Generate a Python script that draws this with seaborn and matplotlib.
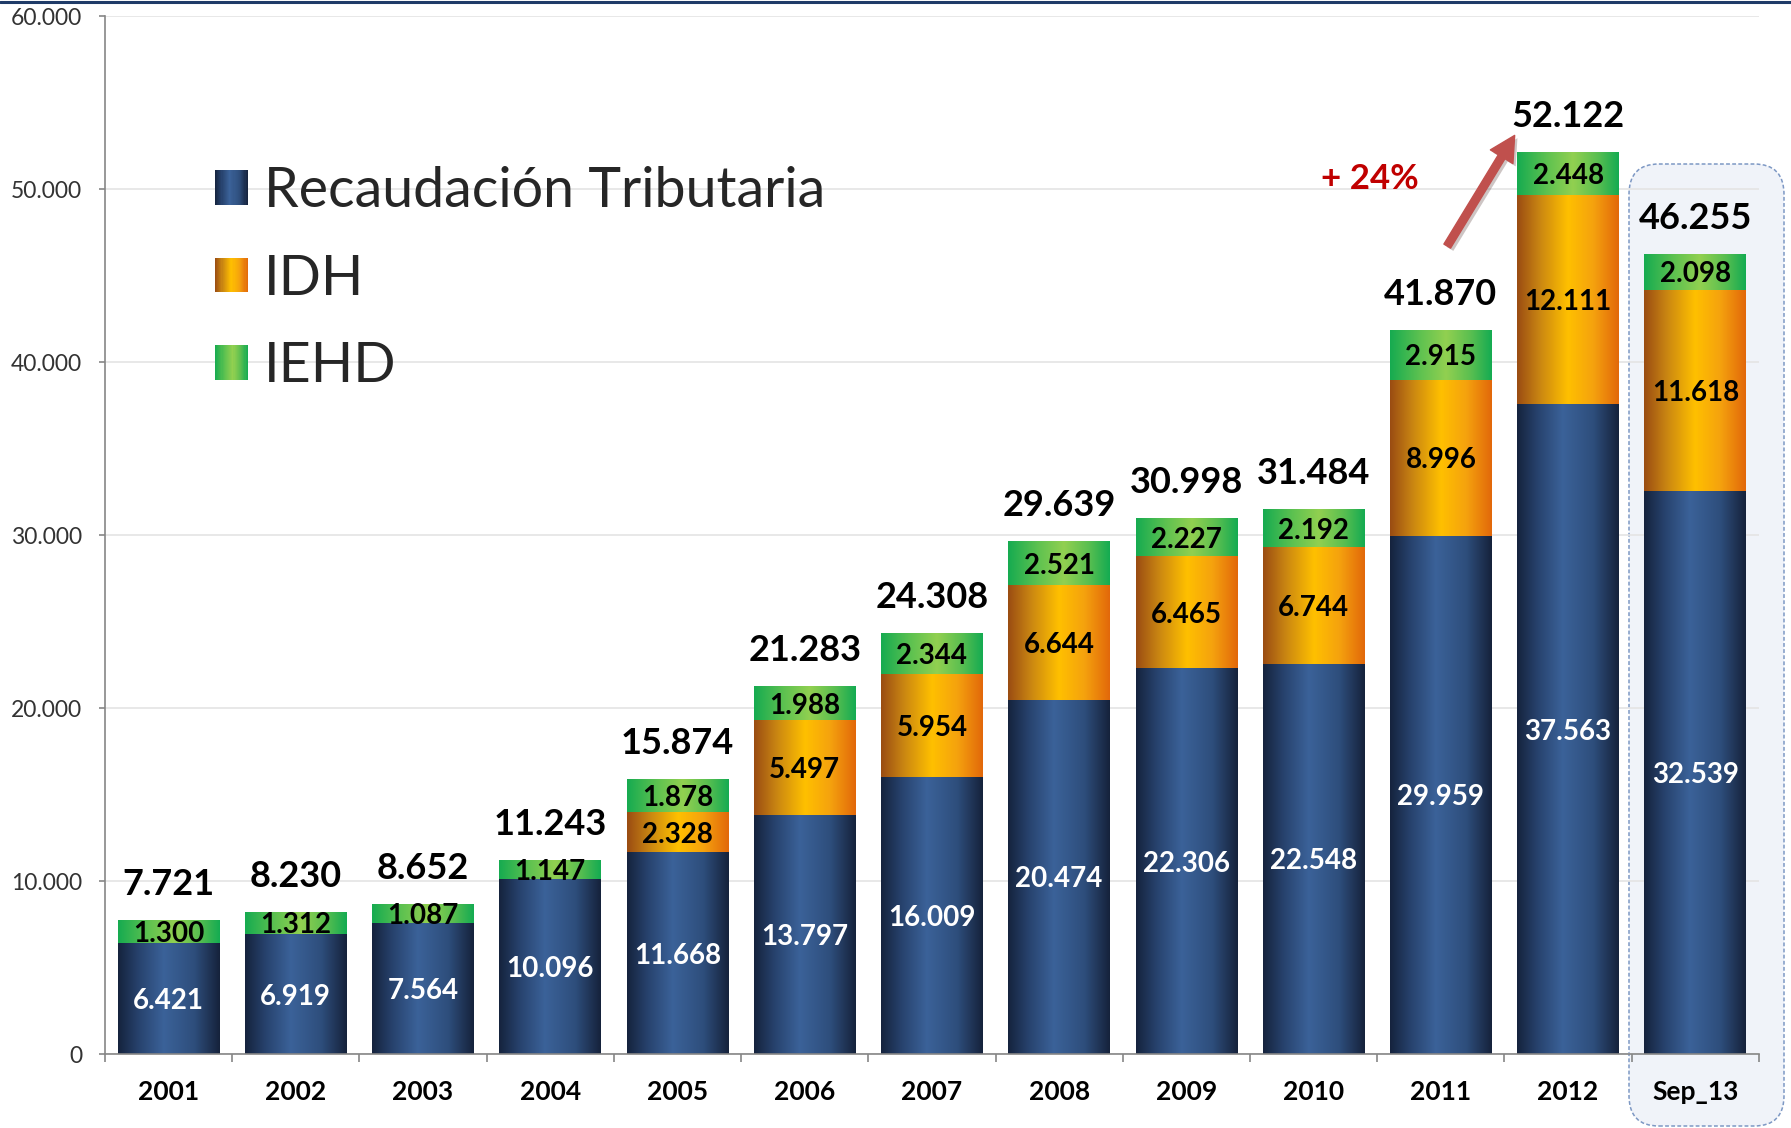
import numpy as np
import pandas as pd
import matplotlib
matplotlib.use("Agg")
import matplotlib.pyplot as plt
import seaborn as sns
from matplotlib.colors import LinearSegmentedColormap
from matplotlib.patches import Patch, Rectangle, FancyBboxPatch
from matplotlib.lines import Line2D
from matplotlib.legend_handler import HandlerBase
import matplotlib.patheffects as pe

# ---------------- data ----------------
periods = ["2001", "2002", "2003", "2004", "2005", "2006", "2007",
           "2008", "2009", "2010", "2011", "2012", "Sep_13"]
recaudacion = [6421, 6919, 7564, 10096, 11668, 13797, 16009,
               20474, 22306, 22548, 29959, 37563, 32539]
idh = [0, 0, 0, 0, 2328, 5497, 5954, 6644, 6465, 6744, 8996, 12111, 11618]
iehd = [1300, 1312, 1087, 1147, 1878, 1988, 2344, 2521, 2227, 2192, 2915, 2448, 2098]
totals = [7721, 8230, 8652, 11243, 15874, 21283, 24308,
          29639, 30998, 31484, 41870, 52122, 46255]
series_names = ["Recaudación Tributaria", "IDH", "IEHD"]
y_ticks = [0, 10000, 20000, 30000, 40000, 50000, 60000]
y_tick_labels = ["0", "10.000", "20.000", "30.000", "40.000", "50.000", "60.000"]
growth_label = "+ 24%"


def fmt(v):
    return f"{v:,}".replace(",", ".")


# ---------------- style ----------------
sns.set_theme(style="white")
plt.rcParams['font.family'] = ['Lato', 'DejaVu Sans']

cm_blue = LinearSegmentedColormap.from_list(
    "b", [(0, "#15233d"), (0.2, "#27426d"), (0.45, "#3b6299"), (0.75, "#2e4e7c"), (1, "#15223b")])
cm_orange = LinearSegmentedColormap.from_list(
    "o", [(0, "#9a4c12"), (0.22, "#c98512"), (0.5, "#ffc000"), (0.75, "#f5a20e"), (1, "#e2680a")])
cm_green = LinearSegmentedColormap.from_list(
    "g", [(0, "#16ab50"), (0.3, "#5fc250"), (0.55, "#92d050"), (0.8, "#58be50"), (1, "#14ab52")])

df = pd.DataFrame({"Periodo": periods, "rec": recaudacion, "idh": idh, "iehd": iehd})
df["c1"] = df["rec"]
df["c2"] = df["rec"] + df["idh"]
df["c3"] = df["c2"] + df["iehd"]

fig = plt.figure(figsize=(17.91, 11.28), dpi=100)
ax = fig.add_axes([0.0586, 0.0656, 0.9235, 0.9202])
ax.set_facecolor("none")

grad = np.linspace(0, 1, 256).reshape(1, -1)
layers = [("c3", cm_green, 2.0), ("c2", cm_orange, 2.1), ("c1", cm_blue, 2.2)]
for col, cmap, z in layers:
    n0 = len(ax.patches)
    sns.barplot(data=df, x="Periodo", y=col, color=cmap(0.5), saturation=1,
                width=0.8, errorbar=None, linewidth=0, zorder=z - 0.05, ax=ax)
    for p in ax.patches[n0:]:
        x0, y0, w, h = p.get_x(), p.get_y(), p.get_width(), p.get_height()
        im = ax.imshow(grad, cmap=cmap, extent=[x0, x0 + w, y0, y0 + h],
                       aspect="auto", zorder=z, interpolation="bilinear")
        im.set_clip_path(p)

ax.set_xlim(-0.5, len(periods) - 0.5)
ax.set_ylim(0, 60000)
ax.set_xlabel("")
ax.set_ylabel("")

# axes / ticks
for s in ["top", "right"]:
    ax.spines[s].set_visible(False)
for s in ["left", "bottom"]:
    ax.spines[s].set_color("#868686")
    ax.spines[s].set_linewidth(1.2)

ax.set_yticks(y_ticks)
ax.set_yticklabels(y_tick_labels)
ax.yaxis.grid(True, color="#e4e4e4", linewidth=1.2)
ax.set_axisbelow(True)
ax.tick_params(axis="y", left=True, length=4.5, width=1.2, color="#868686",
               labelsize=16.5, labelcolor="#333333", pad=12)

ax.set_xticks(range(len(periods)))
ax.set_xticklabels(periods, fontweight="bold", fontsize=19, color="black")
ax.set_xticks(np.arange(-0.5, len(periods), 1), minor=True)
ax.tick_params(axis="x", which="major", bottom=True, length=0, pad=19)
ax.tick_params(axis="x", which="minor", bottom=True, length=6, width=1.2, color="#868686")

# labels
for i in range(len(periods)):
    ax.annotate(fmt(totals[i]), xy=(i, df["c3"][i]), xytext=(0, 18),
                textcoords="offset points", ha="center", va="baseline",
                fontsize=26, fontweight="bold", color="black", zorder=6)
    ax.text(i, recaudacion[i] / 2, fmt(recaudacion[i]), ha="center", va="center_baseline",
            fontsize=20, fontweight="bold", color="white", zorder=6)
    if idh[i] > 0:
        ax.text(i, recaudacion[i] + idh[i] / 2, fmt(idh[i]), ha="center",
                va="center_baseline", fontsize=20, fontweight="bold", color="black", zorder=6)
    ax.text(i, df["c2"][i] + iehd[i] / 2, fmt(iehd[i]), ha="center",
            va="center_baseline", fontsize=20, fontweight="bold", color="black", zorder=6)

# growth annotation
ax.annotate("", xy=(10.58, 53100), xytext=(10.05, 46700),
            arrowprops=dict(arrowstyle="simple,head_length=0.9,head_width=0.95,tail_width=0.28",
                            color="#c0504d", mutation_scale=20, shrinkA=0, shrinkB=0,
                            path_effects=[pe.SimplePatchShadow(offset=(2, -2), alpha=0.25), pe.Normal()]),
            zorder=7)
ax.text(9.44, 50580, growth_label, color="#c00000", fontsize=25, fontweight="bold",
        ha="center", va="center", zorder=7)


# legend with gradient swatches
class GradientHandler(HandlerBase):
    def __init__(self, cmap, n=30):
        super().__init__()
        self.cmap = cmap
        self.n = n

    def create_artists(self, legend, orig_handle, xdescent, ydescent, width, height, fontsize, trans):
        arts = []
        for k in range(self.n):
            r = Rectangle((-xdescent + width * k / self.n, -ydescent), width / self.n * 1.08, height,
                          facecolor=self.cmap((k + 0.5) / self.n), edgecolor="none", transform=trans)
            arts.append(r)
        return arts


handles = [Patch(facecolor=c(0.5)) for c in (cm_blue, cm_orange, cm_green)]
hmap = {h: GradientHandler(c) for h, c in zip(handles, (cm_blue, cm_orange, cm_green))}
ax.legend(handles, series_names, handler_map=hmap, loc="upper left",
          bbox_to_anchor=(0.12, 0.8524), bbox_transform=fig.transFigure, frameon=False,
          fontsize=40, handlelength=0.59, handleheight=0.59, handletextpad=0.3,
          labelspacing=0.65, borderpad=0, borderaxespad=0)

# highlight box for the last period
box = FancyBboxPatch((16.29, 0.02), 1.55, 9.62, boxstyle="round,pad=0,rounding_size=0.3",
                     transform=fig.dpi_scale_trans, facecolor="#f0f3f9", edgecolor="#7d98c4",
                     linewidth=1.1, linestyle=(0, (2.5, 1.5)), zorder=-1)
fig.add_artist(box)

# top border line
fig.add_artist(Line2D([0, 1], [0.9985, 0.9985], transform=fig.transFigure,
                      color="#1f3b68", linewidth=2.2))

fig.savefig("out.png", dpi=100)
